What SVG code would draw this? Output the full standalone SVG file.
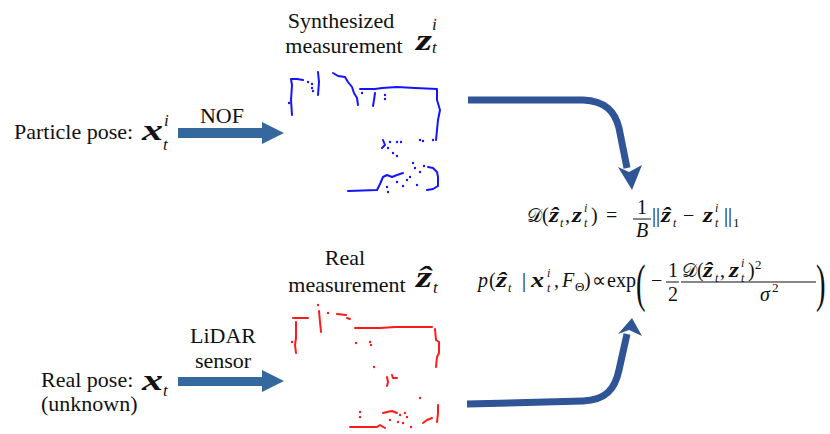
<svg xmlns="http://www.w3.org/2000/svg" width="830" height="434" viewBox="0 0 830 434">
<style>
.t{font-family:"Liberation Serif","Times New Roman",serif;font-size:22px;fill:#111}
.mb{font-family:"Liberation Serif","Times New Roman",serif;font-weight:bold;font-style:italic;font-size:30px;fill:#111}
.ms{font-family:"Liberation Serif",serif;font-style:italic;font-size:17px;fill:#111}
.f{font-family:"Liberation Serif",serif;font-size:20px;fill:#111}
.fi{font-family:"Liberation Serif",serif;font-style:italic;font-size:20px;fill:#111}
.fb{font-family:"Liberation Serif",serif;font-weight:bold;font-style:italic;font-size:21px;fill:#111}
.fs{font-family:"Liberation Serif",serif;font-style:italic;font-size:12px;fill:#111}
.fsu{font-family:"Liberation Serif",serif;font-size:13px;fill:#111}
.cal{font-family:"DejaVu Serif","Liberation Serif",serif;font-size:19px;fill:#111}
.sa{fill:#35699e}
.ca{fill:none;stroke:#2f5597;stroke-width:7}
.ch{fill:#2f5597}
.bl{fill:none;stroke:#1414ff;stroke-width:2;stroke-linejoin:round;stroke-linecap:round}
.bd{fill:#1414ff}
.rl{fill:none;stroke:#ff1a1a;stroke-width:2;stroke-linejoin:round;stroke-linecap:round}
.rd{fill:#ff1a1a}
</style>

<g id="particle-pose">
<text class="t" x="14" y="139">Particle pose:</text>
<text class="mb" x="142" y="140" textLength="21" lengthAdjust="spacingAndGlyphs">x</text>
<text class="ms" x="164" y="126">i</text>
<text class="ms" x="163" y="150">t</text>
</g>

<g id="real-pose">
<text class="t" x="41" y="387">Real pose:</text>
<text class="t" x="41" y="411">(unknown)</text>
<text class="mb" x="142" y="390" textLength="21" lengthAdjust="spacingAndGlyphs">x</text>
<text class="ms" x="163" y="396">t</text>
</g>

<g id="synth-label">
<text class="t" x="341" y="28" text-anchor="middle">Synthesized</text>
<text class="t" x="344" y="53" text-anchor="middle">measurement</text>
<text class="mb" x="416" y="50" textLength="16" lengthAdjust="spacingAndGlyphs">z</text>
<text class="ms" x="432" y="30">i</text>
<text class="ms" x="432" y="53">t</text>
</g>

<g id="real-label">
<text class="t" x="345" y="265" text-anchor="middle">Real</text>
<text class="t" x="347" y="292" text-anchor="middle">measurement</text>
<text class="mb" x="416" y="287" textLength="16" lengthAdjust="spacingAndGlyphs">ẑ</text>
<text class="ms" x="433" y="293">t</text>
</g>

<g id="synth-cloud">
<polyline class="bl" points="292,115 291,100 292,85 291,79 297,79 303,80"/>
<polyline class="bl" points="318,72 319,82 318,95"/>
<polyline class="bl" points="333,73 338,76 345,77 348,82 352,87 354,93 357,98 358,105"/>
<polyline class="bl" points="360,89 375,89 382,88 397,87 415,88 437,89 437,100 440,110 438,120 437,130 436,140"/>
<polyline class="bl" points="375,93 374,100 373,106"/>
<polyline class="bl" points="348,191 377,190 380,184 383,177 387,175 392,177 397,175 403,173"/>
<polyline class="bl" points="427,190 433,189 438,186 438,177 437,172 433,168 428,167"/>
<polyline class="bl" points="383,140 385,145 382,148"/>
<g class="bd">
<circle cx="289" cy="103" r="1.2"/><circle cx="308" cy="82" r="1.2"/><circle cx="312" cy="84" r="1.2"/>
<circle cx="312" cy="88" r="1.2"/><circle cx="313" cy="91" r="1.2"/><circle cx="362" cy="93" r="1.2"/>
<circle cx="385" cy="95" r="1.2"/><circle cx="385" cy="99" r="1.2"/>
<circle cx="388" cy="148" r="1.2"/><circle cx="390" cy="142" r="1.2"/><circle cx="397" cy="142" r="1.2"/>
<circle cx="401" cy="142" r="1.2"/><circle cx="393" cy="153" r="1.2"/><circle cx="397" cy="156" r="1.2"/>
<circle cx="420" cy="140" r="1.2"/><circle cx="423" cy="141" r="1.2"/><circle cx="433" cy="140" r="1.2"/>
<circle cx="407" cy="180" r="1.2"/><circle cx="410" cy="177" r="1.2"/><circle cx="415" cy="168" r="1.2"/>
<circle cx="420" cy="172" r="1.2"/><circle cx="413" cy="163" r="1.2"/><circle cx="417" cy="185" r="1.2"/>
<circle cx="387" cy="187" r="1.2"/><circle cx="388" cy="192" r="1.2"/><circle cx="397" cy="182" r="1.2"/>
<circle cx="403" cy="186" r="1.2"/><circle cx="424" cy="166" r="1.2"/>
</g>
</g>

<g id="real-cloud">
<polyline class="rl" points="293,318 308,318"/>
<polyline class="rl" points="296,322 296,338 295,345 296,353"/>
<polyline class="rl" points="319,311 320,322 321,332"/>
<polyline class="rl" points="337,314 346,315"/>
<polyline class="rl" points="347,318 350,319"/>
<polyline class="rl" points="355,328 380,328 395,327 415,327 432,327"/>
<polyline class="rl" points="435,329 436,340 439,342 439,353 437,357 436,367"/>
<polyline class="rl" points="387,377 388,382 387,386"/>
<polyline class="rl" points="392,375 393,378 397,378"/>
<polyline class="rl" points="350,427 377,427 380,425 385,428"/>
<polyline class="rl" points="383,413 387,412 392,411 397,413"/>
<polyline class="rl" points="438,405 438,413 437,422"/>
<polyline class="rl" points="423,423 427,420 432,418"/>
<g class="rd">
<circle cx="292" cy="342" r="1.2"/><circle cx="356" cy="343" r="1.2"/><circle cx="370" cy="342" r="1.2"/>
<circle cx="371" cy="345" r="1.2"/><circle cx="374" cy="367" r="1.2"/><circle cx="420" cy="398" r="1.2"/>
<circle cx="400" cy="415" r="1.2"/><circle cx="405" cy="413" r="1.2"/><circle cx="407" cy="417" r="1.2"/>
<circle cx="390" cy="420" r="1.2"/><circle cx="398" cy="422" r="1.2"/><circle cx="403" cy="423" r="1.2"/>
<circle cx="360" cy="412" r="1.2"/><circle cx="360" cy="417" r="1.2"/><circle cx="411" cy="427" r="1.2"/>
<circle cx="318" cy="305" r="1.2"/><circle cx="328" cy="313" r="1.2"/>
</g>
</g>

<g id="formula-distance">
<text class="cal" x="527" y="222">𝒟</text>
<text class="f" x="542" y="222">(</text>
<text class="fb" x="549" y="222" textLength="10" lengthAdjust="spacingAndGlyphs">ẑ</text>
<text class="fs" x="560" y="227">t</text>
<text class="f" x="565" y="222">,</text>
<text class="fb" x="572" y="222" textLength="10" lengthAdjust="spacingAndGlyphs">z</text>
<text class="fs" x="584" y="212">i</text>
<text class="fs" x="584" y="227">t</text>
<text class="f" x="591" y="222">)</text>
<text class="f" x="606" y="222">=</text>
<text class="f" x="642" y="214" text-anchor="middle">1</text>
<rect x="633" y="218.5" width="18" height="1" fill="#111"/>
<text class="fi" x="642" y="237" text-anchor="middle">B</text>
<text class="f" x="652" y="222">||</text>
<text class="fb" x="661" y="222" textLength="10" lengthAdjust="spacingAndGlyphs">ẑ</text>
<text class="fs" x="673" y="227">t</text>
<text class="f" x="683" y="222">−</text>
<text class="fb" x="703" y="222" textLength="10" lengthAdjust="spacingAndGlyphs">z</text>
<text class="fs" x="715" y="212">i</text>
<text class="fs" x="715" y="227">t</text>
<text class="f" x="724" y="222">||</text>
<text class="fsu" x="733" y="227">1</text>
</g>

<g id="formula-likelihood">
<text class="fi" x="478" y="287">p</text>
<text class="f" x="489" y="287">(</text>
<text class="fb" x="496" y="287" textLength="11" lengthAdjust="spacingAndGlyphs">ẑ</text>
<text class="fs" x="508" y="292">t</text>
<text class="f" x="522" y="287">|</text>
<text class="fb" x="531" y="287" textLength="13" lengthAdjust="spacingAndGlyphs">x</text>
<text class="fs" x="547" y="277">i</text>
<text class="fs" x="547" y="292">t</text>
<text class="f" x="554" y="287">,</text>
<text class="fi" x="562" y="287">F</text>
<text class="fsu" x="575" y="291">Θ</text>
<text class="f" x="584" y="287">)</text>
<text class="f" x="592" y="287">∝</text>
<text class="f" x="607" y="287">exp</text>
<text class="f" x="0" y="0" transform="translate(636,301) scale(0.55,1)" style="font-size:52px">(</text>
<text class="f" x="651" y="287">−</text>
<text class="f" x="673" y="277" text-anchor="middle">1</text>
<rect x="666" y="281.5" width="13" height="1" fill="#111"/>
<text class="f" x="673" y="301" text-anchor="middle">2</text>
<text class="cal" x="682" y="277">𝒟</text>
<text class="f" x="697" y="277">(</text>
<text class="fb" x="703" y="277" textLength="10" lengthAdjust="spacingAndGlyphs">ẑ</text>
<text class="fs" x="715" y="282">t</text>
<text class="f" x="720" y="277">,</text>
<text class="fb" x="729" y="277" textLength="10" lengthAdjust="spacingAndGlyphs">z</text>
<text class="fs" x="741" y="267">i</text>
<text class="fs" x="741" y="282">t</text>
<text class="f" x="748" y="277">)</text>
<text class="fsu" x="755" y="269">2</text>
<rect x="681" y="281.5" width="135" height="1" fill="#111"/>
<text class="fi" x="760" y="301">σ</text>
<text class="fsu" x="772" y="292">2</text>
<text class="f" x="0" y="0" transform="translate(816,301) scale(0.55,1)" style="font-size:52px">)</text>
</g>

<g id="connectors">
<rect class="sa" x="178" y="128" width="86" height="10"/>
<polygon class="sa" points="262,122 284,133 262,144"/>
<text class="t" x="222" y="123" text-anchor="middle">NOF</text>
<rect class="sa" x="178" y="377" width="86" height="9"/>
<polygon class="sa" points="262,370 284,381 262,392"/>
<text class="t" x="223" y="343" text-anchor="middle">LiDAR</text>
<text class="t" x="223" y="368" text-anchor="middle">sensor</text>
<path class="ca" d="M468,100 L583,100 C606,101 615,112 619,128 L627,168"/>
<polygon class="ch" points="632,190 618,167 629,172 642,165"/>
<path class="ca" d="M467,404 L583,401 C606,400 615,389 619,370 L627,334"/>
<polygon class="ch" points="632,318 618,334 629,330 642,336"/>
</g>
</svg>
